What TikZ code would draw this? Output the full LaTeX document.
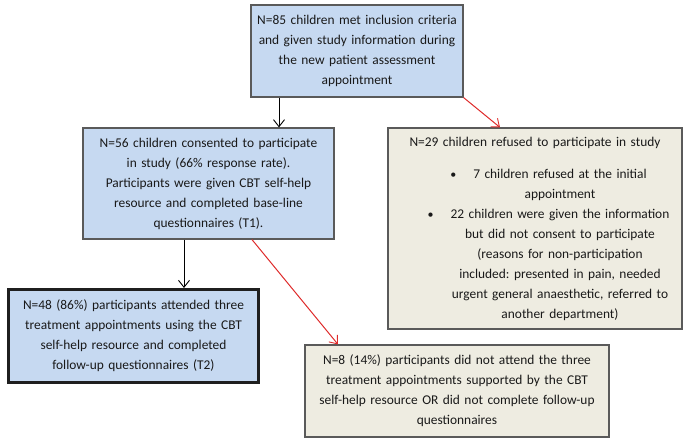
\documentclass[tikz,border=0pt]{standalone}
\usepackage{fontspec}
\setmainfont{Carlito}
\usepackage{xcolor}
\usetikzlibrary{arrows.meta,positioning,calc}
\definecolor{boxblue}{HTML}{C6D9F1}
\definecolor{boxbeige}{HTML}{EEECE1}
\definecolor{edgegrey}{HTML}{5A5A5A}
\definecolor{arrowred}{HTML}{DE2A2A}
\frenchspacing

\begin{document}
\begin{tikzpicture}[
  x=1pt, y=-1pt,
  block/.style={draw=edgegrey,line width=1.2pt,align=center,inner sep=2pt,
    font=\fontsize{13.4pt}{20pt}\selectfont,text=black!90},
  bluebox/.style={block,fill=boxblue},
  beigebox/.style={block,fill=boxbeige},
  arrow/.style={-{Straight Barb[length=7pt,width=11pt,line width=0.9pt]},line width=1pt},
  redarrow/.style={arrow,draw=arrowred}
]
\useasboundingbox (0,0) rectangle (689,445);
\node[bluebox,minimum width=212pt,minimum height=92pt,text width=205pt] (top) at (357,51)
  {N=85 children met inclusion criteria\\and given study information during\\the new patient assessment\\appointment};
\node[bluebox,minimum width=251pt,minimum height=111pt,text width=244pt] (consent) at (208.5,183.5)
  {N=56 children consented to participate\\in study (66\% response rate).\\Participants were given CBT self-help\\resource and completed base-line\\questionnaires (T1).};
\node[beigebox,minimum width=294pt,minimum height=201pt,text width=288pt] (refused) at (535,228.5)
  {N=29 children refused to participate in study\\[12pt]
   \hspace*{50pt}\llap{\large\textbullet\hspace{17pt}}7 children refused at the initial\\
   \hspace*{50pt}appointment\\
   \hspace*{50pt}\llap{\large\textbullet\hspace{17pt}}22 children were given the information\\
   \hspace*{50pt}but did not consent to participate\\
   \hspace*{50pt}(reasons for non-participation\\
   \hspace*{50pt}included: presented in pain, needed\\
   \hspace*{50pt}urgent general anaesthetic, referred to\\
   \hspace*{50pt}another department)};
\node[bluebox,draw=black!88,line width=3pt,minimum width=250pt,minimum height=93pt,text width=243pt] (attended) at (133.5,336)
  {N=48 (86\%) participants attended three\\treatment appointments using the CBT\\self-help resource and completed\\follow-up questionnaires (T2)};
\node[beigebox,minimum width=304pt,minimum height=92pt,text width=298pt] (notattended) at (457,391)
  {N=8 (14\%) participants did not attend the three\\treatment appointments supported by the CBT\\self-help resource OR did not complete follow-up\\questionnaires};

\draw[arrow] ([xshift=-78pt]top.south) -- ([xshift=-78pt]top.south |- consent.north);
\draw[redarrow] (top.south east) -- ([xshift=-35pt]refused.north);
\draw[arrow] ([xshift=-24.5pt]consent.south) -- ([xshift=-24.5pt]consent.south |- attended.north);
\draw[redarrow] ([xshift=43.5pt]consent.south) -- ([xshift=-119pt]notattended.north);
\end{tikzpicture}
\end{document}
